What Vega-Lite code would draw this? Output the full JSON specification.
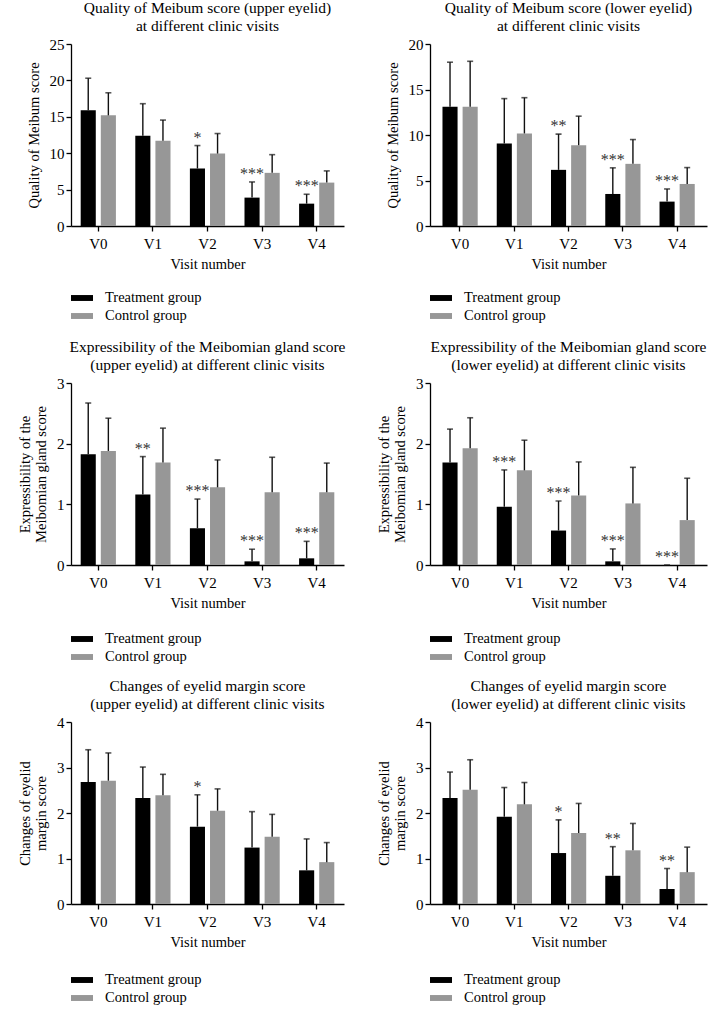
{
  "$schema": "https://vega.github.io/schema/vega-lite/v6.json",
  "padding": {"left": 17, "top": 0, "right": 5, "bottom": 5},
  "background": "white",
  "config": {
    "font": "Liberation Serif",
    "view": {"stroke": null},
    "axis": {"domainColor": "#000", "domainWidth": 1.3, "tickColor": "#000", "tickWidth": 1.3, "tickSize": 5, "labelFont": "Liberation Serif", "labelFontSize": 15, "labelColor": "#000", "titleFont": "Liberation Serif", "titleFontSize": 14.5, "titleFontWeight": "normal", "titleColor": "#000", "grid": false, "labelOverlap": false},
    "axisX": {"labelAngle": 0, "labelPadding": 5, "titlePadding": 6},
    "axisY": {"labelPadding": 2, "titlePadding": 8, "format": "d"},
    "title": {"font": "Liberation Serif", "fontSize": 15.5, "fontWeight": "normal", "color": "#000", "lineHeight": 18, "anchor": "middle", "frame": "group", "offset": 3},
    "text": {"color": "#333", "fontSize": 16, "font": "Liberation Serif", "baseline": "alphabetic", "dy": -3},
    "legend": {"title": null, "orient": "none", "legendX": 3, "legendY": 246, "direction": "vertical", "symbolType": "M-1.375,-0.37L1.375,-0.37L1.375,0.37L-1.375,0.37Z", "symbolSize": 256, "symbolStrokeWidth": 0, "symbolOpacity": 1, "labelFontSize": 14.5, "labelFont": "Liberation Serif", "labelColor": "#000", "labelOffset": 15, "rowPadding": 3, "padding": 0}
  },
  "datasets": {
    "d": [
      {"panel": 1, "visit": "V0", "group": "Treatment group", "mean": 15.9, "upper": 20.3, "star": ""},
      {"panel": 1, "visit": "V0", "group": "Control group", "mean": 15.2, "upper": 18.3, "star": ""},
      {"panel": 1, "visit": "V1", "group": "Treatment group", "mean": 12.4, "upper": 16.8, "star": ""},
      {"panel": 1, "visit": "V1", "group": "Control group", "mean": 11.7, "upper": 14.55, "star": ""},
      {"panel": 1, "visit": "V2", "group": "Treatment group", "mean": 7.9, "upper": 11.05, "star": "*"},
      {"panel": 1, "visit": "V2", "group": "Control group", "mean": 9.95, "upper": 12.7, "star": ""},
      {"panel": 1, "visit": "V3", "group": "Treatment group", "mean": 3.9, "upper": 6.05, "star": "***"},
      {"panel": 1, "visit": "V3", "group": "Control group", "mean": 7.3, "upper": 9.8, "star": ""},
      {"panel": 1, "visit": "V4", "group": "Treatment group", "mean": 3.07, "upper": 4.36, "star": "***"},
      {"panel": 1, "visit": "V4", "group": "Control group", "mean": 5.96, "upper": 7.57, "star": ""},

      {"panel": 2, "visit": "V0", "group": "Treatment group", "mean": 13.1, "upper": 18.0, "star": ""},
      {"panel": 2, "visit": "V0", "group": "Control group", "mean": 13.1, "upper": 18.1, "star": ""},
      {"panel": 2, "visit": "V1", "group": "Treatment group", "mean": 9.06, "upper": 14.0, "star": ""},
      {"panel": 2, "visit": "V1", "group": "Control group", "mean": 10.17, "upper": 14.1, "star": ""},
      {"panel": 2, "visit": "V2", "group": "Treatment group", "mean": 6.17, "upper": 10.1, "star": "**"},
      {"panel": 2, "visit": "V2", "group": "Control group", "mean": 8.88, "upper": 12.07, "star": ""},
      {"panel": 2, "visit": "V3", "group": "Treatment group", "mean": 3.52, "upper": 6.39, "star": "***"},
      {"panel": 2, "visit": "V3", "group": "Control group", "mean": 6.83, "upper": 9.5, "star": ""},
      {"panel": 2, "visit": "V4", "group": "Treatment group", "mean": 2.68, "upper": 4.07, "star": "***"},
      {"panel": 2, "visit": "V4", "group": "Control group", "mean": 4.62, "upper": 6.42, "star": ""},

      {"panel": 3, "visit": "V0", "group": "Treatment group", "mean": 1.826, "upper": 2.67, "star": ""},
      {"panel": 3, "visit": "V0", "group": "Control group", "mean": 1.88, "upper": 2.42, "star": ""},
      {"panel": 3, "visit": "V1", "group": "Treatment group", "mean": 1.164, "upper": 1.787, "star": "**"},
      {"panel": 3, "visit": "V1", "group": "Control group", "mean": 1.688, "upper": 2.256, "star": ""},
      {"panel": 3, "visit": "V2", "group": "Treatment group", "mean": 0.607, "upper": 1.087, "star": "***"},
      {"panel": 3, "visit": "V2", "group": "Control group", "mean": 1.28, "upper": 1.732, "star": ""},
      {"panel": 3, "visit": "V3", "group": "Treatment group", "mean": 0.06, "upper": 0.26, "star": "***"},
      {"panel": 3, "visit": "V3", "group": "Control group", "mean": 1.2, "upper": 1.776, "star": ""},
      {"panel": 3, "visit": "V4", "group": "Treatment group", "mean": 0.11, "upper": 0.39, "star": "***"},
      {"panel": 3, "visit": "V4", "group": "Control group", "mean": 1.2, "upper": 1.68, "star": ""},

      {"panel": 4, "visit": "V0", "group": "Treatment group", "mean": 1.69, "upper": 2.24, "star": ""},
      {"panel": 4, "visit": "V0", "group": "Control group", "mean": 1.925, "upper": 2.427, "star": ""},
      {"panel": 4, "visit": "V1", "group": "Treatment group", "mean": 0.96, "upper": 1.567, "star": "***"},
      {"panel": 4, "visit": "V1", "group": "Control group", "mean": 1.56, "upper": 2.057, "star": ""},
      {"panel": 4, "visit": "V2", "group": "Treatment group", "mean": 0.568, "upper": 1.054, "star": "***"},
      {"panel": 4, "visit": "V2", "group": "Control group", "mean": 1.147, "upper": 1.699, "star": ""},
      {"panel": 4, "visit": "V3", "group": "Treatment group", "mean": 0.06, "upper": 0.265, "star": "***"},
      {"panel": 4, "visit": "V3", "group": "Control group", "mean": 1.015, "upper": 1.61, "star": ""},
      {"panel": 4, "visit": "V4", "group": "Treatment group", "mean": 0, "upper": 0, "star": "***"},
      {"panel": 4, "visit": "V4", "group": "Control group", "mean": 0.74, "upper": 1.43, "star": ""},

      {"panel": 5, "visit": "V0", "group": "Treatment group", "mean": 2.68, "upper": 3.39, "star": ""},
      {"panel": 5, "visit": "V0", "group": "Control group", "mean": 2.71, "upper": 3.32, "star": ""},
      {"panel": 5, "visit": "V1", "group": "Treatment group", "mean": 2.33, "upper": 3.01, "star": ""},
      {"panel": 5, "visit": "V1", "group": "Control group", "mean": 2.39, "upper": 2.85, "star": ""},
      {"panel": 5, "visit": "V2", "group": "Treatment group", "mean": 1.7, "upper": 2.4, "star": "*"},
      {"panel": 5, "visit": "V2", "group": "Control group", "mean": 2.05, "upper": 2.53, "star": ""},
      {"panel": 5, "visit": "V3", "group": "Treatment group", "mean": 1.24, "upper": 2.03, "star": ""},
      {"panel": 5, "visit": "V3", "group": "Control group", "mean": 1.48, "upper": 1.97, "star": ""},
      {"panel": 5, "visit": "V4", "group": "Treatment group", "mean": 0.74, "upper": 1.43, "star": ""},
      {"panel": 5, "visit": "V4", "group": "Control group", "mean": 0.92, "upper": 1.35, "star": ""},

      {"panel": 6, "visit": "V0", "group": "Treatment group", "mean": 2.33, "upper": 2.9, "star": ""},
      {"panel": 6, "visit": "V0", "group": "Control group", "mean": 2.51, "upper": 3.17, "star": ""},
      {"panel": 6, "visit": "V1", "group": "Treatment group", "mean": 1.92, "upper": 2.56, "star": ""},
      {"panel": 6, "visit": "V1", "group": "Control group", "mean": 2.19, "upper": 2.67, "star": ""},
      {"panel": 6, "visit": "V2", "group": "Treatment group", "mean": 1.12, "upper": 1.85, "star": "*"},
      {"panel": 6, "visit": "V2", "group": "Control group", "mean": 1.56, "upper": 2.21, "star": ""},
      {"panel": 6, "visit": "V3", "group": "Treatment group", "mean": 0.62, "upper": 1.26, "star": "**"},
      {"panel": 6, "visit": "V3", "group": "Control group", "mean": 1.18, "upper": 1.77, "star": ""},
      {"panel": 6, "visit": "V4", "group": "Treatment group", "mean": 0.33, "upper": 0.78, "star": "**"},
      {"panel": 6, "visit": "V4", "group": "Control group", "mean": 0.7, "upper": 1.25, "star": ""}
    ]
  },
  "bounds": "flush",
  "columns": 2,
  "spacing": {"row": 157, "column": 86},
  "resolve": {"scale": {"color": "independent"}, "legend": {"color": "independent"}},
  "concat": [
    {
      "width": 273, "height": 182,
      "title": {"text": ["Quality of Meibum score (upper eyelid)", "at different clinic visits"]},
      "data": {"name": "d"},
      "transform": [{"filter": "datum.panel == 1"}],
      "encoding": {
        "x": {"field": "visit", "type": "nominal", "title": "Visit number", "scale": {"paddingInner": 0.355, "paddingOuter": 0.1775}},
        "xOffset": {"field": "group", "type": "nominal", "sort": ["Treatment group", "Control group"], "scale": {"paddingInner": 0.25, "paddingOuter": 0}}
      },
      "layer": [
        {"mark": {"type": "bar"}, "encoding": {
          "y": {"field": "mean", "type": "quantitative", "title": "Quality of Meibum score", "scale": {"domain": [0, 25], "nice": false}, "axis": {"values": [0, 5, 10, 15, 20, 25]}},
          "color": {"field": "group", "type": "nominal", "sort": ["Treatment group", "Control group"], "scale": {"domain": ["Treatment group", "Control group"], "range": ["#000000", "#979797"]}, "legend": {"legendY": 246}}
        }},
        {"mark": {"type": "rule", "color": "#111", "strokeWidth": 1.4}, "encoding": {"y": {"field": "mean", "type": "quantitative", "title": "Quality of Meibum score", "scale": {"domain": [0, 25], "nice": false}, "axis": {"values": [0, 5, 10, 15, 20, 25]}}, "y2": {"field": "upper"}}},
        {"mark": {"type": "tick", "color": "#111", "size": 6, "thickness": 1.6}, "encoding": {"y": {"field": "upper", "type": "quantitative", "title": "Quality of Meibum score", "scale": {"domain": [0, 25], "nice": false}, "axis": {"values": [0, 5, 10, 15, 20, 25]}}}},
        {"mark": {"type": "text"}, "encoding": {"y": {"field": "upper", "type": "quantitative", "title": "Quality of Meibum score", "scale": {"domain": [0, 25], "nice": false}, "axis": {"values": [0, 5, 10, 15, 20, 25]}}, "text": {"field": "star"}}}
      ]
    },
    {
      "width": 277, "height": 182,
      "title": {"text": ["Quality of Meibum score (lower eyelid)", "at different clinic visits"]},
      "data": {"name": "d"},
      "transform": [{"filter": "datum.panel == 2"}],
      "encoding": {
        "x": {"field": "visit", "type": "nominal", "title": "Visit number", "scale": {"paddingInner": 0.355, "paddingOuter": 0.23}},
        "xOffset": {"field": "group", "type": "nominal", "sort": ["Treatment group", "Control group"], "scale": {"paddingInner": 0.25, "paddingOuter": 0}}
      },
      "layer": [
        {"mark": {"type": "bar"}, "encoding": {
          "y": {"field": "mean", "type": "quantitative", "title": "Quality of Meibum score", "scale": {"domain": [0, 20], "nice": false}, "axis": {"values": [0, 5, 10, 15, 20]}},
          "color": {"field": "group", "type": "nominal", "sort": ["Treatment group", "Control group"], "scale": {"domain": ["Treatment group", "Control group"], "range": ["#000000", "#979797"]}, "legend": {"legendY": 246}}
        }},
        {"mark": {"type": "rule", "color": "#111", "strokeWidth": 1.4}, "encoding": {"y": {"field": "mean", "type": "quantitative", "title": "Quality of Meibum score", "scale": {"domain": [0, 20], "nice": false}, "axis": {"values": [0, 5, 10, 15, 20]}}, "y2": {"field": "upper"}}},
        {"mark": {"type": "tick", "color": "#111", "size": 6, "thickness": 1.6}, "encoding": {"y": {"field": "upper", "type": "quantitative", "title": "Quality of Meibum score", "scale": {"domain": [0, 20], "nice": false}, "axis": {"values": [0, 5, 10, 15, 20]}}}},
        {"mark": {"type": "text"}, "encoding": {"y": {"field": "upper", "type": "quantitative", "title": "Quality of Meibum score", "scale": {"domain": [0, 20], "nice": false}, "axis": {"values": [0, 5, 10, 15, 20]}}, "text": {"field": "star"}}}
      ]
    },
    {
      "width": 273, "height": 182,
      "title": {"text": ["Expressibility of the Meibomian gland score", "(upper eyelid) at different clinic visits"]},
      "data": {"name": "d"},
      "transform": [{"filter": "datum.panel == 3"}],
      "encoding": {
        "x": {"field": "visit", "type": "nominal", "title": "Visit number", "scale": {"paddingInner": 0.355, "paddingOuter": 0.1775}},
        "xOffset": {"field": "group", "type": "nominal", "sort": ["Treatment group", "Control group"], "scale": {"paddingInner": 0.25, "paddingOuter": 0}}
      },
      "layer": [
        {"mark": {"type": "bar"}, "encoding": {
          "y": {"field": "mean", "type": "quantitative", "title": ["Expressibility of the", "Meibomian gland score"], "scale": {"domain": [0, 3], "nice": false}, "axis": {"values": [0, 1, 2, 3]}},
          "color": {"field": "group", "type": "nominal", "sort": ["Treatment group", "Control group"], "scale": {"domain": ["Treatment group", "Control group"], "range": ["#000000", "#979797"]}, "legend": {"legendY": 248}}
        }},
        {"mark": {"type": "rule", "color": "#111", "strokeWidth": 1.4}, "encoding": {"y": {"field": "mean", "type": "quantitative", "title": ["Expressibility of the", "Meibomian gland score"], "scale": {"domain": [0, 3], "nice": false}, "axis": {"values": [0, 1, 2, 3]}}, "y2": {"field": "upper"}}},
        {"mark": {"type": "tick", "color": "#111", "size": 6, "thickness": 1.6}, "encoding": {"y": {"field": "upper", "type": "quantitative", "title": ["Expressibility of the", "Meibomian gland score"], "scale": {"domain": [0, 3], "nice": false}, "axis": {"values": [0, 1, 2, 3]}}}},
        {"mark": {"type": "text"}, "encoding": {"y": {"field": "upper", "type": "quantitative", "title": ["Expressibility of the", "Meibomian gland score"], "scale": {"domain": [0, 3], "nice": false}, "axis": {"values": [0, 1, 2, 3]}}, "text": {"field": "star"}}}
      ]
    },
    {
      "width": 277, "height": 182,
      "title": {"text": ["Expressibility of the Meibomian gland score", "(lower eyelid) at different clinic visits"]},
      "data": {"name": "d"},
      "transform": [{"filter": "datum.panel == 4"}],
      "encoding": {
        "x": {"field": "visit", "type": "nominal", "title": "Visit number", "scale": {"paddingInner": 0.355, "paddingOuter": 0.23}},
        "xOffset": {"field": "group", "type": "nominal", "sort": ["Treatment group", "Control group"], "scale": {"paddingInner": 0.25, "paddingOuter": 0}}
      },
      "layer": [
        {"mark": {"type": "bar"}, "encoding": {
          "y": {"field": "mean", "type": "quantitative", "title": ["Expressibility of the", "Meibomian gland score"], "scale": {"domain": [0, 3], "nice": false}, "axis": {"values": [0, 1, 2, 3]}},
          "color": {"field": "group", "type": "nominal", "sort": ["Treatment group", "Control group"], "scale": {"domain": ["Treatment group", "Control group"], "range": ["#000000", "#979797"]}, "legend": {"legendY": 248}}
        }},
        {"mark": {"type": "rule", "color": "#111", "strokeWidth": 1.4}, "encoding": {"y": {"field": "mean", "type": "quantitative", "title": ["Expressibility of the", "Meibomian gland score"], "scale": {"domain": [0, 3], "nice": false}, "axis": {"values": [0, 1, 2, 3]}}, "y2": {"field": "upper"}}},
        {"mark": {"type": "tick", "color": "#111", "size": 6, "thickness": 1.6}, "encoding": {"y": {"field": "upper", "type": "quantitative", "title": ["Expressibility of the", "Meibomian gland score"], "scale": {"domain": [0, 3], "nice": false}, "axis": {"values": [0, 1, 2, 3]}}}},
        {"mark": {"type": "text"}, "encoding": {"y": {"field": "upper", "type": "quantitative", "title": ["Expressibility of the", "Meibomian gland score"], "scale": {"domain": [0, 3], "nice": false}, "axis": {"values": [0, 1, 2, 3]}}, "text": {"field": "star"}}}
      ]
    },
    {
      "width": 273, "height": 182,
      "title": {"text": ["Changes of eyelid margin score", "(upper eyelid) at different clinic visits"]},
      "data": {"name": "d"},
      "transform": [{"filter": "datum.panel == 5"}],
      "encoding": {
        "x": {"field": "visit", "type": "nominal", "title": "Visit number", "scale": {"paddingInner": 0.355, "paddingOuter": 0.1775}},
        "xOffset": {"field": "group", "type": "nominal", "sort": ["Treatment group", "Control group"], "scale": {"paddingInner": 0.25, "paddingOuter": 0}}
      },
      "layer": [
        {"mark": {"type": "bar"}, "encoding": {
          "y": {"field": "mean", "type": "quantitative", "title": ["Changes of eyelid", "margin score"], "scale": {"domain": [0, 4], "nice": false}, "axis": {"values": [0, 1, 2, 3, 4]}},
          "color": {"field": "group", "type": "nominal", "sort": ["Treatment group", "Control group"], "scale": {"domain": ["Treatment group", "Control group"], "range": ["#000000", "#979797"]}, "legend": {"legendY": 250}}
        }},
        {"mark": {"type": "rule", "color": "#111", "strokeWidth": 1.4}, "encoding": {"y": {"field": "mean", "type": "quantitative", "title": ["Changes of eyelid", "margin score"], "scale": {"domain": [0, 4], "nice": false}, "axis": {"values": [0, 1, 2, 3, 4]}}, "y2": {"field": "upper"}}},
        {"mark": {"type": "tick", "color": "#111", "size": 6, "thickness": 1.6}, "encoding": {"y": {"field": "upper", "type": "quantitative", "title": ["Changes of eyelid", "margin score"], "scale": {"domain": [0, 4], "nice": false}, "axis": {"values": [0, 1, 2, 3, 4]}}}},
        {"mark": {"type": "text"}, "encoding": {"y": {"field": "upper", "type": "quantitative", "title": ["Changes of eyelid", "margin score"], "scale": {"domain": [0, 4], "nice": false}, "axis": {"values": [0, 1, 2, 3, 4]}}, "text": {"field": "star"}}}
      ]
    },
    {
      "width": 277, "height": 182,
      "title": {"text": ["Changes of eyelid margin score", "(lower eyelid) at different clinic visits"]},
      "data": {"name": "d"},
      "transform": [{"filter": "datum.panel == 6"}],
      "encoding": {
        "x": {"field": "visit", "type": "nominal", "title": "Visit number", "scale": {"paddingInner": 0.355, "paddingOuter": 0.23}},
        "xOffset": {"field": "group", "type": "nominal", "sort": ["Treatment group", "Control group"], "scale": {"paddingInner": 0.25, "paddingOuter": 0}}
      },
      "layer": [
        {"mark": {"type": "bar"}, "encoding": {
          "y": {"field": "mean", "type": "quantitative", "title": ["Changes of eyelid", "margin score"], "scale": {"domain": [0, 4], "nice": false}, "axis": {"values": [0, 1, 2, 3, 4]}},
          "color": {"field": "group", "type": "nominal", "sort": ["Treatment group", "Control group"], "scale": {"domain": ["Treatment group", "Control group"], "range": ["#000000", "#979797"]}, "legend": {"legendY": 250}}
        }},
        {"mark": {"type": "rule", "color": "#111", "strokeWidth": 1.4}, "encoding": {"y": {"field": "mean", "type": "quantitative", "title": ["Changes of eyelid", "margin score"], "scale": {"domain": [0, 4], "nice": false}, "axis": {"values": [0, 1, 2, 3, 4]}}, "y2": {"field": "upper"}}},
        {"mark": {"type": "tick", "color": "#111", "size": 6, "thickness": 1.6}, "encoding": {"y": {"field": "upper", "type": "quantitative", "title": ["Changes of eyelid", "margin score"], "scale": {"domain": [0, 4], "nice": false}, "axis": {"values": [0, 1, 2, 3, 4]}}}},
        {"mark": {"type": "text"}, "encoding": {"y": {"field": "upper", "type": "quantitative", "title": ["Changes of eyelid", "margin score"], "scale": {"domain": [0, 4], "nice": false}, "axis": {"values": [0, 1, 2, 3, 4]}}, "text": {"field": "star"}}}
      ]
    }
  ]
}
